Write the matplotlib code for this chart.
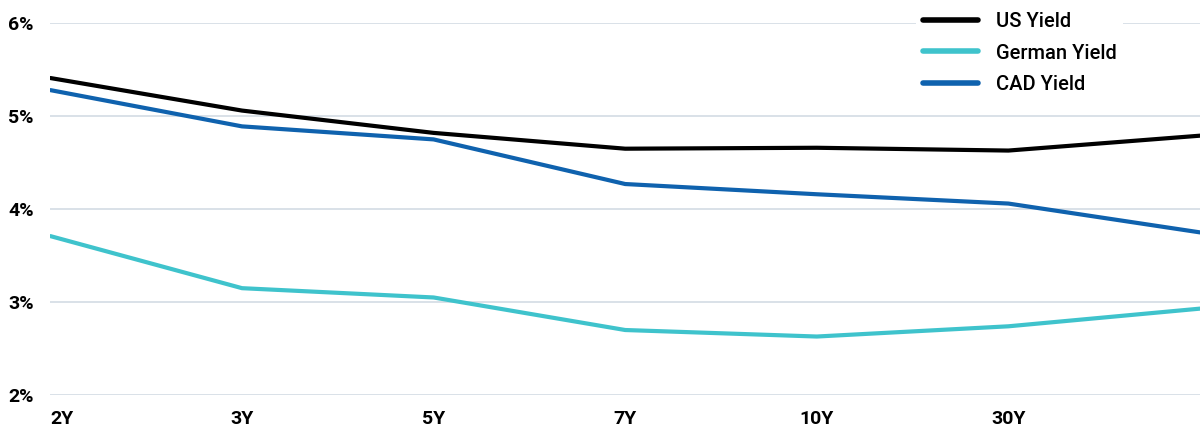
import matplotlib; matplotlib.use('Agg'); import matplotlib.pyplot as plt
from matplotlib.ticker import FuncFormatter

# tenors (last point runs off the right edge, label clipped)
tenors = ['2Y', '3Y', '5Y', '7Y', '10Y', '30Y', '']
us_yield = [5.41, 5.06, 4.82, 4.65, 4.66, 4.63, 4.79]
german_yield = [3.71, 3.15, 3.05, 2.70, 2.63, 2.74, 2.93]
cad_yield = [5.28, 4.89, 4.75, 4.27, 4.16, 4.06, 3.75]
yticks = [2, 3, 4, 5, 6]

fig = plt.figure(figsize=(12, 4.29), dpi=100, facecolor='white')
ax = fig.add_axes([0.042, 0.079, 0.958, 0.867])

x = range(len(tenors))
ax.plot(x, us_yield, color='#000000', lw=3.0, label='US Yield', solid_capstyle='round', zorder=3)
ax.plot(x, german_yield, color='#3fc3cc', lw=3.0, label='German Yield', solid_capstyle='round', zorder=3)
ax.plot(x, cad_yield, color='#0f62ae', lw=3.0, label='CAD Yield', solid_capstyle='round', zorder=3)

ax.set_xlim(0, len(tenors) - 1)
ax.set_ylim(2, 6)
ax.set_yticks(yticks)
ax.yaxis.set_major_formatter(FuncFormatter(lambda v, p: f'{v:.0f}%'))
ax.set_xticks(list(x)[:-1])
ax.set_xticklabels(tenors[:-1])
ax.grid(axis='y', color='#d3dce4', lw=1.2)
ax.set_axisbelow(True)
for s in ax.spines.values():
    s.set_visible(False)
ax.tick_params(length=0)
ax.tick_params(axis='y', pad=12)
ax.tick_params(axis='x', pad=11)
for t in ax.get_yticklabels():
    t.set_fontweight('bold'); t.set_fontsize(14); t.set_family(['Roboto', 'DejaVu Sans'])
for t in ax.get_xticklabels():
    t.set_fontweight('bold'); t.set_fontsize(14); t.set_family(['Roboto', 'DejaVu Sans'])
ax.get_xticklabels()[0].set_ha('left')

leg = ax.legend(loc='upper left', bbox_to_anchor=(916 / 1200, 424 / 429), bbox_transform=fig.transFigure,
                borderaxespad=0, frameon=True, fancybox=False,
                edgecolor='none', facecolor='white', framealpha=1,
                prop={'size': 14.5, 'family': ['Roboto', 'DejaVu Sans'], 'weight': 'medium'},
                handlelength=2.75, handletextpad=0.85, labelspacing=0.62, borderpad=0.35)
for line in leg.get_lines():
    line.set_linewidth(4)
    line.set_solid_capstyle('round')

plt.savefig('out.png', dpi=100, facecolor='white')
